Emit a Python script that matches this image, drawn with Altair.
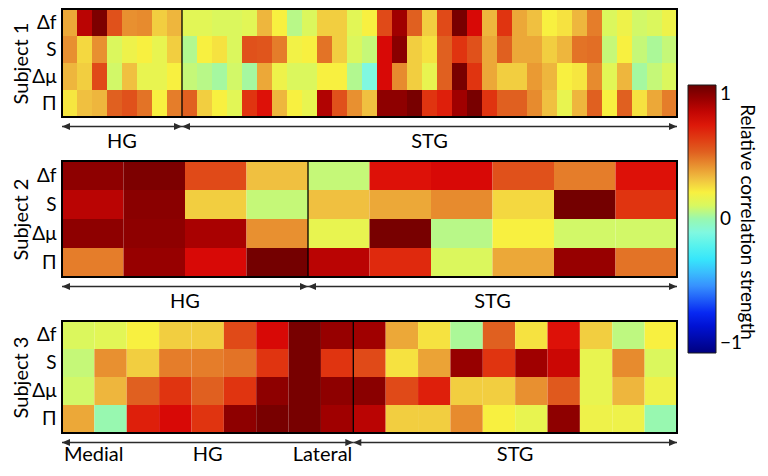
import altair as alt
import pandas as pd

FONT = "Lato"
ROWS = ["Δf", "S", "Δμ", "Π"]
REGIONS = ["HG", "STG"]
LEGEND_TICKS = [-1, 0, 1]
LEGEND_TITLE = "Relative correlation strength"

# ---- Subject 1 : 8 HG columns + 33 STG columns ----
s1_hg = 8
s1_df = [0.35, 0.82, 0.96, 0.54, 0.4, 0.41, 0.27, 0.32,
         0.13, 0.13, 0.11, 0.11, 0.13, 0.32, 0.2, 0.05, 0.11, 0.27,
         0.27, 0.13, 0.2, 0.56, 0.88, 0.5, 0.27, 0.56, 0.97, 0.75,
         0.32, 0.62, 0.35, 0.3, 0.2, 0.23, 0.32, 0.44, 0.11, 0.17,
         0.09, 0.11, 0.17]
s1_s = [0.4, 0.25, 0.4, 0.11, 0.17, 0.2, 0.15, 0.27,
        0.04, 0.2, 0.23, 0.11, 0.54, 0.53, 0.44, 0.18, 0.2, 0.46,
        0.27, 0.11, 0.07, 0.75, 0.93, 0.27, 0.23, 0.5, 0.62, 0.54,
        0.35, 0.5, 0.35, 0.35, 0.27, 0.32, 0.46, 0.47, 0.07, 0.2,
        0.07, 0.03, 0.07]
s1_dmu = [0.32, 0.27, 0.56, 0.09, 0.3, 0.15, 0.15, 0.2,
          0.07, 0.05, 0.02, 0.09, 0.02, 0.35, 0.17, 0.11, 0.11, 0.2,
          0.2, 0.04, -0.1, 0.75, 0.41, 0.27, 0.15, 0.5, 0.97, 0.62,
          0.35, 0.27, 0.27, 0.38, 0.32, 0.2, 0.22, 0.41, 0.13, 0.32,
          0.02, 0.07, 0.11]
s1_pi = [0.22, 0.3, 0.32, 0.5, 0.54, 0.46, 0.2, 0.44,
         0.5, 0.27, 0.2, 0.13, 0.62, 0.72, 0.32, 0.2, 0.15, 0.84,
         0.54, 0.4, 0.3, 0.92, 0.92, 0.97, 0.62, 0.68, 0.88, 0.97,
         0.62, 0.5, 0.5, 0.41, 0.3, 0.15, 0.32, 0.5, 0.2, 0.5,
         0.23, 0.35, 0.44]

# ---- Subject 2 : 4 HG columns + 6 STG columns ----
s2_hg = 4
s2_df = [0.92, 0.96, 0.56, 0.3, 0.07, 0.72, 0.75, 0.54, 0.44, 0.72]
s2_s = [0.82, 0.93, 0.27, 0.07, 0.3, 0.35, 0.41, 0.25, 0.98, 0.62]
s2_dmu = [0.92, 0.92, 0.86, 0.4, 0.15, 0.97, 0.05, 0.2, 0.09, 0.09]
s2_pi = [0.44, 0.9, 0.75, 0.98, 0.82, 0.65, 0.11, 0.35, 0.9, 0.46]

# ---- Subject 3 : 9 HG columns + 10 STG columns ----
s3_hg = 9
s3_df = [0.11, 0.13, 0.2, 0.27, 0.27, 0.56, 0.75, 0.97, 0.9,
         0.88, 0.35, 0.23, 0.03, 0.5, 0.23, 0.72, 0.27, 0.06, 0.2]
s3_s = [0.07, 0.4, 0.27, 0.44, 0.44, 0.46, 0.62, 0.97, 0.62,
        0.56, 0.23, 0.36, 0.9, 0.62, 0.88, 0.78, 0.15, 0.41, 0.11]
s3_dmu = [0.09, 0.32, 0.5, 0.62, 0.5, 0.62, 0.92, 0.97, 0.92,
          0.93, 0.56, 0.68, 0.27, 0.27, 0.4, 0.52, 0.15, 0.32, 0.17]
s3_pi = [0.35, 0.0, 0.68, 0.75, 0.62, 0.92, 0.97, 0.97, 0.88,
         0.82, 0.27, 0.27, 0.41, 0.2, 0.15, 0.92, 0.17, 0.17, 0.0]

# jet-like colour map
COLOR_STOPS = [-1, -0.73, -0.48, -0.28, -0.1, 0, 0.1, 0.2, 0.3, 0.4, 0.5,
               0.62, 0.74, 0.88, 1]
COLORS = ["#00007f", "#0018f0", "#3c9cff", "#36eefa", "#80f8e0", "#98f8b0",
          "#d8f860", "#f8f040", "#f0c040", "#e89030", "#e06020", "#e03410",
          "#dc0a06", "#a00000", "#6b0000"]

W = 615
cscale = alt.Scale(domain=COLOR_STOPS, range=COLORS, interpolate="rgb")
legend = alt.Legend(
    type="gradient", orient="none", legendX=626, legendY=76,
    direction="vertical", gradientLength=268, gradientThickness=28,
    gradientStrokeColor="#1a1a1a", gradientStrokeWidth=1,
    values=LEGEND_TICKS, format="d", labelOverlap=False,
    labelFont=FONT, labelFontSize=19, labelColor="black", labelOffset=4,
    labelBaseline="middle", title=None,
)

HEAD_R = "M0,0L-2,-0.875L-2,0.875Z"
HEAD_L = "M0,0L2,-0.875L2,0.875Z"
ARROW = "#2b2b2b"


def make_panel(title, values, n_hg, height, text_off, medial_lateral=False,
               cb_title=False):
    n = len(values[0])
    recs = [{"row": ROWS[r], "col": c, "col_end": c + 1, "value": v}
            for r in range(4) for c, v in enumerate(values[r])]
    df = pd.DataFrame(recs)
    xs = alt.Scale(domain=[0, n], nice=False, zero=False)

    heat = alt.Chart(df).mark_rect().encode(
        x=alt.X("col:Q", scale=xs, axis=None),
        x2="col_end:Q",
        y=alt.Y("row:N", sort=ROWS, title=title,
                axis=alt.Axis(titleFont=FONT, titleFontSize=20,
                              titleFontWeight="normal", titleColor="black",
                              titlePadding=0,
                              labelFont=FONT, labelFontSize=19,
                              labelColor="black", labelPadding=6,
                              ticks=False, domain=False)),
        color=alt.Color("value:Q", scale=cscale, legend=legend),
    )

    frame = alt.Chart(pd.DataFrame({"a": [0]})).mark_rect(
        filled=False, stroke="black", strokeWidth=2
    ).encode(x=alt.value(0), x2=alt.value(W), y=alt.value(0),
             y2=alt.value(height))

    divider = alt.Chart(pd.DataFrame({"b": [n_hg]})).mark_rule(
        color="black", strokeWidth=1.3
    ).encode(x=alt.X("b:Q", scale=xs, axis=None))

    reg = pd.DataFrame({"name": REGIONS, "start": [0, n_hg], "end": [n_hg, n]})
    base = alt.Chart(reg)
    ay = height + 9.5
    shaft = base.mark_rule(color=ARROW, strokeWidth=1.4).encode(
        x=alt.X("start:Q", scale=xs, axis=None), x2="end:Q", y=alt.value(ay))
    lhead = base.mark_point(shape=HEAD_L, size=64, filled=True, color=ARROW,
                            opacity=1, strokeWidth=0).encode(
        x=alt.X("start:Q", scale=xs, axis=None), y=alt.value(ay))
    rhead = base.mark_point(shape=HEAD_R, size=64, filled=True, color=ARROW,
                            opacity=1, strokeWidth=0).encode(
        x=alt.X("end:Q", scale=xs, axis=None), y=alt.value(ay))
    labels = base.transform_calculate(
        mid="(datum.start + datum.end) / 2"
    ).mark_text(font=FONT, fontSize=20, color="black", baseline="middle").encode(
        x=alt.X("mid:Q", scale=xs, axis=None), y=alt.value(height + text_off),
        text="name:N")

    layers = [heat, frame, divider, shaft, lhead, rhead, labels]
    if medial_lateral:
        ends = pd.DataFrame({"label": ["Medial", "Lateral"], "pos": [0, n_hg]})
        eb = alt.Chart(ends)
        medial = eb.transform_filter("datum.pos == 0").mark_text(
            font=FONT, fontSize=20, color="black", baseline="middle",
            align="left", dx=2).encode(
            x=alt.X("pos:Q", scale=xs, axis=None),
            y=alt.value(height + text_off), text="label:N")
        lateral = eb.transform_filter("datum.pos > 0").mark_text(
            font=FONT, fontSize=20, color="black", baseline="middle",
            align="right", dx=-1).encode(
            x=alt.X("pos:Q", scale=xs, axis=None),
            y=alt.value(height + text_off), text="label:N")
        layers += [medial, lateral]
    if cb_title:
        cbt = alt.Chart(pd.DataFrame({"t": [LEGEND_TITLE]})).mark_text(
            font=FONT, fontSize=19, color="black", angle=90, align="center",
            baseline="middle").encode(
            x=alt.value(685), y=alt.value(213), text="t:N")
        layers.append(cbt)
    return alt.layer(*layers).properties(width=W, height=height)


p1 = make_panel("Subject 1", [s1_df, s1_s, s1_dmu, s1_pi], s1_hg, 108, 25,
                cb_title=True)
p2 = make_panel("Subject 2", [s2_df, s2_s, s2_dmu, s2_pi], s2_hg, 116, 25)
p3 = make_panel("Subject 3", [s3_df, s3_s, s3_dmu, s3_pi], s3_hg, 112, 22,
                medial_lateral=True)

chart = alt.vconcat(p1, p2, p3, spacing=44, bounds="flush").properties(
    padding={"left": 3, "top": 0, "right": 3, "bottom": 0}
).configure_view(stroke=None).configure_scale(
    rectBandPaddingInner=0
)

chart.save("out.html", embed_options={"renderer": "svg", "actions": False})
